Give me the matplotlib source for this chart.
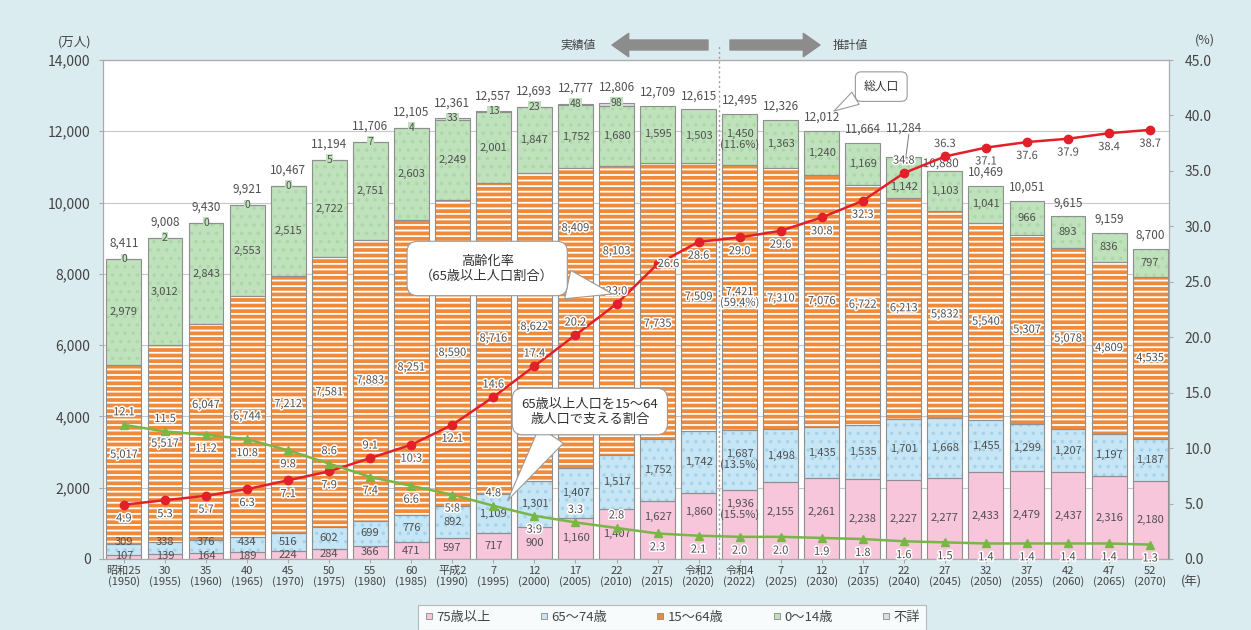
import matplotlib.pyplot as plt
import matplotlib.patheffects as pe
from matplotlib.lines import Line2D
import numpy as np

plt.rcParams['font.family'] = ['Noto Sans CJK JP', 'DejaVu Sans']
plt.rcParams['hatch.linewidth'] = 1.3

# year labels
era = ['昭和25', '30', '35', '40', '45', '50', '55', '60', '平成2', '7', '12', '17', '22',
       '27', '令和2', '令和4', '7', '12', '17', '22', '27', '32', '37', '42', '47', '52']
years = [1950, 1955, 1960, 1965, 1970, 1975, 1980, 1985, 1990, 1995, 2000, 2005, 2010,
         2015, 2020, 2022, 2025, 2030, 2035, 2040, 2045, 2050, 2055, 2060, 2065, 2070]

# population (10,000 persons)
total = [8411, 9008, 9430, 9921, 10467, 11194, 11706, 12105, 12361, 12557, 12693, 12777, 12806,
         12709, 12615, 12495, 12326, 12012, 11664, 11284, 10880, 10469, 10051, 9615, 9159, 8700]
age0_14 = [2979, 3012, 2843, 2553, 2515, 2722, 2751, 2603, 2249, 2001, 1847, 1752, 1680,
           1595, 1503, 1450, 1363, 1240, 1169, 1142, 1103, 1041, 966, 893, 836, 797]
age15_64 = [5017, 5517, 6047, 6744, 7212, 7581, 7883, 8251, 8590, 8716, 8622, 8409, 8103,
            7735, 7509, 7421, 7310, 7076, 6722, 6213, 5832, 5540, 5307, 5078, 4809, 4535]
age65_74 = [309, 338, 376, 434, 516, 602, 699, 776, 892, 1109, 1301, 1407, 1517,
            1752, 1742, 1687, 1498, 1435, 1535, 1701, 1668, 1455, 1299, 1207, 1197, 1187]
age75 = [107, 139, 164, 189, 224, 284, 366, 471, 597, 717, 900, 1160, 1407,
         1627, 1860, 1936, 2155, 2261, 2238, 2227, 2277, 2433, 2479, 2437, 2316, 2180]
unknown = [0, 2, 0, 0, 0, 5, 7, 4, 33, 13, 23, 48, 98]   # 1950-2010 only

# rates (%)
aging_rate = [4.9, 5.3, 5.7, 6.3, 7.1, 7.9, 9.1, 10.3, 12.1, 14.6, 17.4, 20.2, 23.0,
              26.6, 28.6, 29.0, 29.6, 30.8, 32.3, 34.8, 36.3, 37.1, 37.6, 37.9, 38.4, 38.7]
support = [12.1, 11.5, 11.2, 10.8, 9.8, 8.6, 7.4, 6.6, 5.8, 4.8, 3.9, 3.3, 2.8,
           2.3, 2.1, 2.0, 2.0, 1.9, 1.8, 1.6, 1.5, 1.4, 1.4, 1.4, 1.4, 1.3]

# label placement: a = above, b = below, r = right
aging_side = list('bbbbbbabbaaaarbbbbbaabbbbb')
support_side = list('aabbbabbbabaabbbbbbbbbbbbb')
orange_label_y = {2: 4320, 11: 9280, 12: 8630, 13: 6600}
pink_label_y = {13: 1180, 14: 1320, 15: 1380, 16: 1320, 17: 1320}
green_label_y = {19: 10450}

PINK, BLUE, ORANGE, GREEN, GRAY = '#f7c6da', '#c6e6f6', '#ef8a3b', '#bfe1bc', '#dedede'
EDGE = '#8f8f8f'
TXT = '#505050'

x = np.arange(len(years))
w = 0.85
bg = '#dbecf1'

fig = plt.figure(figsize=(12.51, 6.30), dpi=100, facecolor=bg)
ax = fig.add_axes([103 / 1251, 71 / 630, (1169 - 103) / 1251, (559 - 60) / 630])
ax.set_facecolor('white')


def seg(vals, bottom, fc, hatch=None, hc=None):
    ax.bar(x[:len(vals)], vals, bottom=bottom, width=w, color=fc, edgecolor='none', zorder=2)
    if hatch:
        ax.bar(x[:len(vals)], vals, bottom=bottom, width=w, color='none', edgecolor=hc,
               hatch=hatch, lw=0, zorder=2.1)
    ax.bar(x[:len(vals)], vals, bottom=bottom, width=w, fill=False, edgecolor=EDGE,
           lw=0.8, zorder=2.2)


b1 = np.array(age75, float)
b2 = b1 + age65_74
b3 = b2 + age15_64
b4 = b3 + age0_14
seg(age75, 0, PINK)
seg(age65_74, b1, BLUE, '..', '#a6d3ec')
seg(age15_64, b2, ORANGE, '---', 'white')
seg(age0_14, b3, GREEN, '..', '#acd8a8')
seg(unknown, b4[:len(unknown)], GRAY)

stroke = [pe.withStroke(linewidth=2.2, foreground='white')]


def fmt(v):
    return f'{v:,}'


for i in range(len(x)):
    pct = i == 15
    def lab(v):
        s = fmt(v)
        if pct:
            s += f'\n({v / total[i] * 100:.1f}%)'
        return s
    ax.text(x[i], pink_label_y.get(i, max(age75[i] / 2, 90)), lab(age75[i]), ha='center',
            va='center', fontsize=8, color=TXT, zorder=5, linespacing=1.0)
    ax.text(x[i], max(b1[i] + age65_74[i] / 2, 480), lab(age65_74[i]), ha='center', va='center',
            fontsize=8, color=TXT, zorder=5, linespacing=1.0)
    ax.text(x[i], orange_label_y.get(i, b2[i] + age15_64[i] / 2), lab(age15_64[i]),
            ha='center', va='center', fontsize=8, color=TXT, zorder=5, linespacing=1.0,
            path_effects=stroke)
    ax.text(x[i], green_label_y.get(i, b3[i] + age0_14[i] / 2), lab(age0_14[i]),
            ha='center', va='center', fontsize=8, color=TXT, zorder=5, linespacing=1.0)
    if i < len(unknown):
        ax.text(x[i], b4[i] + unknown[i], str(unknown[i]), ha='center', va='center',
                fontsize=7.5, color=TXT, zorder=5,
                bbox=dict(boxstyle='square,pad=0.05', fc=GREEN, ec='none'))
        ax.text(x[i], total[i] + 260, fmt(total[i]), ha='center', va='bottom',
                fontsize=8.5, color=TXT, zorder=5)
    elif i == 19:
        # label lifted above the aging-rate line with a leader
        ax.text(x[i], total[i] + 620, fmt(total[i]), ha='center', va='bottom',
                fontsize=8.5, color=TXT, zorder=5)
        ax.plot([x[i] + 0.12, x[i] + 0.05], [total[i] + 620, total[i]], color='#777777',
                lw=0.7, zorder=5)
    elif i == 20:
        ax.text(x[i] - 0.1, total[i] + 30, fmt(total[i]), ha='center', va='bottom',
                fontsize=8.5, color=TXT, zorder=5, path_effects=stroke)
    else:
        ax.text(x[i], total[i] + 200, fmt(total[i]), ha='center', va='bottom',
                fontsize=8.5, color=TXT, zorder=5)

ax.set_xlim(-0.51, 25.46)
ax.set_ylim(0, 14000)
ax.set_yticks(np.arange(0, 14001, 2000))
ax.set_yticklabels([fmt(v) for v in range(0, 14001, 2000)])
ax.set_xticks(x)
ax.set_xticklabels([f'{e}\n({y})' for e, y in zip(era, years)], linespacing=1.0)
ax.yaxis.grid(True, color='#c8c8c8', lw=0.8)
ax.set_axisbelow(True)
ax.tick_params(axis='y', length=3, color='#aaaaaa', labelsize=10, labelcolor='#444444', pad=6)
ax.tick_params(axis='x', length=3, color='#aaaaaa', labelsize=8, labelcolor='#444444', pad=2)
for s in ax.spines.values():
    s.set_color('#aaaaaa')

# boundary between actual and projected
ax.plot([14.5, 14.5], [0, 14420], ls=(0, (1.5, 2)), color='#a0a0a0', lw=1, clip_on=False, zorder=3)

ax2 = ax.twinx()
ax2.set_ylim(0, 45)
ax2.set_yticks(np.arange(0, 45.1, 5))
ax2.set_yticklabels([f'{v:.1f}' for v in np.arange(0, 45.1, 5)])
ax2.tick_params(axis='y', length=3, color='#aaaaaa', labelsize=10, labelcolor='#444444', pad=8)
for s in ax2.spines.values():
    s.set_color('#aaaaaa')

ax2.plot(x, aging_rate, color='#e3202a', lw=1.8, marker='o', ms=6, zorder=4)
ax2.plot(x, support, color='#78b646', lw=1.8, marker='^', ms=6, zorder=4)

offs = {'a': (0, 9), 'b': (0, -10), 'r': (8, 0)}
for i in range(len(x)):
    ax2.annotate(f'{aging_rate[i]:.1f}', (x[i], aging_rate[i]), textcoords='offset points',
                 xytext=offs[aging_side[i]], ha='center', va='center', fontsize=8,
                 color=TXT, path_effects=stroke, zorder=5)
    ax2.annotate(f'{support[i]:.1f}', (x[i], support[i]), textcoords='offset points',
                 xytext=offs[support_side[i]], ha='center', va='center', fontsize=8,
                 color=TXT, path_effects=stroke, zorder=5)

box = dict(boxstyle='round,pad=1.0,rounding_size=0.8', fc='white', ec='#9a9a9a', lw=0.8)
ax2.annotate('高齢化率\n（65歳以上人口割合）', xy=(11.9, 23.9), xytext=(8.85, 26.2),
             ha='center', va='center', fontsize=9.5, color='#333333', zorder=6, bbox=box,
             arrowprops=dict(arrowstyle='wedge,tail_width=2.2,shrink_factor=0.5', fc='white',
                             ec='#9a9a9a', lw=0.8, relpos=(0.78, 0.25), shrinkA=0, shrinkB=0))
ax2.annotate('65歳以上人口を15～64\n歳人口で支える割合', xy=(9.35, 5.3), xytext=(11.35, 13.3),
             ha='center', va='center', fontsize=9.5, color='#333333', zorder=6,
             bbox=dict(boxstyle='round,pad=0.7,rounding_size=0.8', fc='white', ec='#9a9a9a', lw=0.8),
             arrowprops=dict(arrowstyle='wedge,tail_width=2.2,shrink_factor=0.5', fc='white',
                             ec='#9a9a9a', lw=0.8, relpos=(0.3, 0.25), shrinkA=0, shrinkB=0))
ax2.annotate('総人口', xy=(17.3, 40.4), xytext=(18.45, 42.6),
             ha='center', va='center', fontsize=8.5, color='#333333', zorder=6,
             bbox=dict(boxstyle='round,pad=0.7,rounding_size=0.5', fc='white', ec='#9a9a9a', lw=0.8),
             arrowprops=dict(arrowstyle='wedge,tail_width=1.2,shrink_factor=0.5', fc='white',
                             ec='#9a9a9a', lw=0.8, relpos=(0.2, 0.3), shrinkA=0, shrinkB=0))

# header texts and arrows
fig.text(75 / 1251, 1 - 42 / 630, '(万人)', ha='center', va='center', fontsize=9, color='#444444')
fig.text(1205 / 1251, 1 - 40 / 630, '(%)', ha='center', va='center', fontsize=9, color='#444444')
fig.text(1191 / 1251, 1 - 582 / 630, '(年)', ha='center', va='center', fontsize=9, color='#444444')
fig.text(578 / 1251, 1 - 45 / 630, '実績値', ha='center', va='center', fontsize=8.5, color='#444444')
fig.text(850 / 1251, 1 - 45 / 630, '推計値', ha='center', va='center', fontsize=8.5, color='#444444')
arr = dict(arrowstyle='simple,head_width=1.4,head_length=1.0,tail_width=0.6',
           color='#8c8c8c', mutation_scale=12, shrinkA=0, shrinkB=0)
ax.annotate('', xy=(612, 585), xytext=(708, 585), xycoords='figure pixels', arrowprops=arr)
ax.annotate('', xy=(820, 585), xytext=(730, 585), xycoords='figure pixels', arrowprops=arr)

# legend
names = ['75歳以上', '65～74歳', '15～64歳', '0～14歳', '不詳']
cols = [PINK, BLUE, ORANGE, GREEN, GRAY]
handles = [Line2D([], [], ls='none', marker='s', ms=5, mfc=c, mec='#888888', mew=0.6) for c in cols]
leg = fig.legend(handles, names, loc='upper center', bbox_to_anchor=(672 / 1251, 25 / 630),
                 ncol=5, frameon=True, fancybox=False, fontsize=9.5, handlelength=0.7,
                 handletextpad=0.2, columnspacing=3.7, borderpad=0.45, borderaxespad=0,
                 labelcolor='#444444')
leg.get_frame().set_edgecolor('#aaaaaa')
leg.get_frame().set_linewidth(0.8)

fig.savefig('out.png', dpi=100, facecolor=bg)
